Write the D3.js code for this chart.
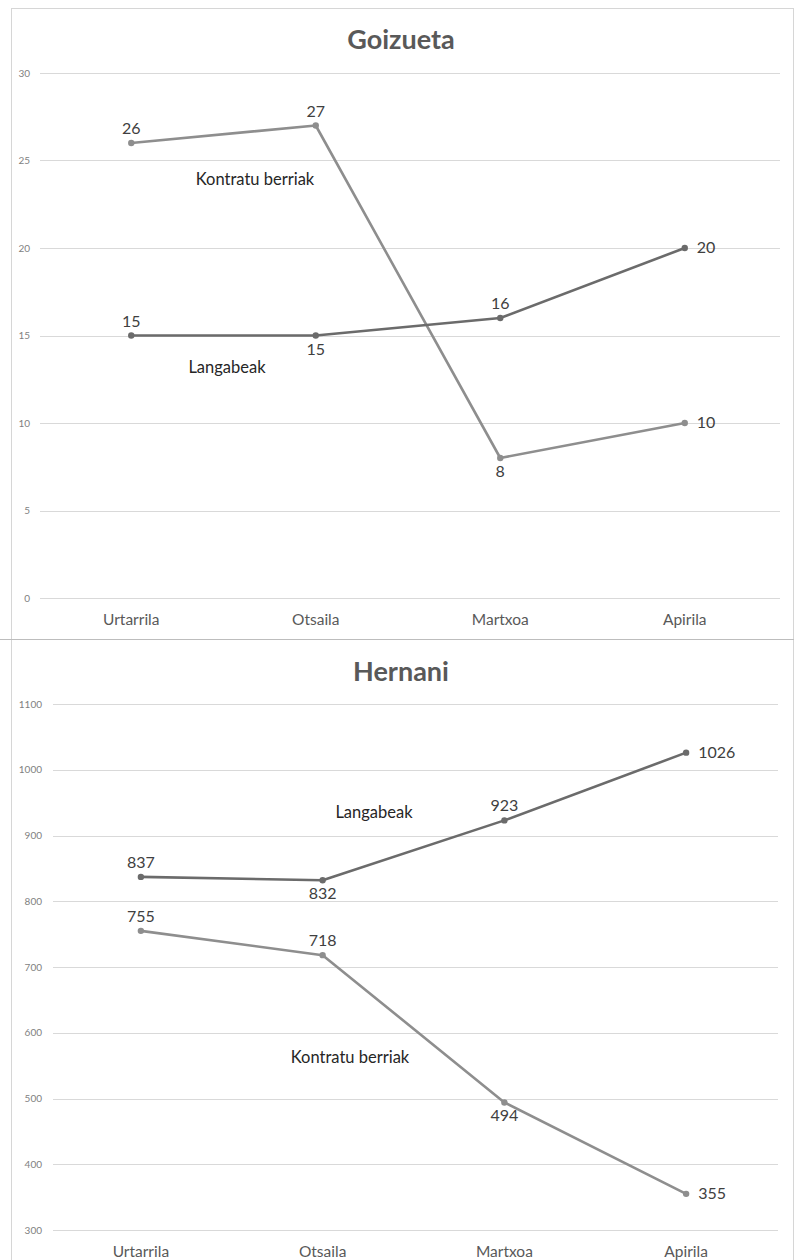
<!DOCTYPE html>
<html>
<head>
<meta charset="utf-8">
<script src="https://cdn.jsdelivr.net/npm/d3@7"></script>
<style>
  body { margin: 0; background: #fff; }
  svg { display: block; font-family: Lato, "Open Sans", sans-serif; }
</style>
</head>
<body>
<div id="chart"></div>
<script>
const months = ["Urtarrila", "Otsaila", "Martxoa", "Apirila"];

const goizuetaKontratu = [26, 27, 8, 10];
const goizuetaLangabeak = [15, 15, 16, 20];
const goizuetaTicks = [0, 5, 10, 15, 20, 25, 30];

const hernaniLangabeak = [837, 832, 923, 1026];
const hernaniKontratu = [755, 718, 494, 355];
const hernaniTicks = [300, 400, 500, 600, 700, 800, 900, 1000, 1100];

const width = 802;
const height = 1260;
const darkLine = "#6b6b6b";
const lightLine = "#8e8e8e";
const textColor = "#404040";

const svg = d3.select("#chart")
  .append("svg")
  .attr("width", width)
  .attr("height", height);

// panel frames
svg.append("rect")
  .attr("x", 11.5).attr("y", 8.5)
  .attr("width", 782).attr("height", 1260)
  .attr("fill", "none")
  .attr("stroke", "#d6d6d6");
svg.append("line")
  .attr("x1", 0).attr("x2", 794)
  .attr("y1", 639.5).attr("y2", 639.5)
  .attr("stroke", "#bdbdbd");

const panels = [
  {
    title: "Goizueta",
    titleY: 49,
    xRange: [39, 777],
    gridX: [40, 780],
    yDomain: [0, 30],
    yRange: [598, 73],
    ticks: goizuetaTicks,
    tickX: 30,
    catY: 625,
    series: [
      { values: goizuetaKontratu, color: lightLine, pos: ["above", "above", "below", "right"] },
      { values: goizuetaLangabeak, color: darkLine, pos: ["above", "below", "above", "right"] }
    ],
    names: [
      { text: "Kontratu berriak", x: 255, y: 185 },
      { text: "Langabeak", x: 227, y: 373 }
    ]
  },
  {
    title: "Hernani",
    titleY: 681,
    xRange: [50, 777],
    gridX: [53, 778],
    yDomain: [300, 1100],
    yRange: [1230, 704],
    ticks: hernaniTicks,
    tickX: 42,
    catY: 1257,
    series: [
      { values: hernaniLangabeak, color: darkLine, pos: ["above", "below", "above", "right"] },
      { values: hernaniKontratu, color: lightLine, pos: ["above", "above", "below", "right"] }
    ],
    names: [
      { text: "Langabeak", x: 374, y: 818 },
      { text: "Kontratu berriak", x: 350, y: 1063 }
    ]
  }
];

panels.forEach(p => {
  const g = svg.append("g");

  const x = d3.scalePoint()
    .domain(months)
    .range(p.xRange)
    .padding(0.5);
  const y = d3.scaleLinear()
    .domain(p.yDomain)
    .range(p.yRange);

  // title
  g.append("text")
    .attr("x", 401)
    .attr("y", p.titleY)
    .attr("text-anchor", "middle")
    .attr("font-size", 27)
    .attr("font-weight", "bold")
    .attr("fill", "#595959")
    .text(p.title);

  // gridlines + y ticks
  g.selectAll(".grid")
    .data(p.ticks)
    .enter()
    .append("line")
    .attr("x1", p.gridX[0])
    .attr("x2", p.gridX[1])
    .attr("y1", d => Math.round(y(d)) + 0.5)
    .attr("y2", d => Math.round(y(d)) + 0.5)
    .attr("stroke", "#d9d9d9")
    .attr("stroke-width", 1.2);

  g.selectAll(".ytick")
    .data(p.ticks)
    .enter()
    .append("text")
    .attr("x", p.tickX)
    .attr("y", d => y(d) + 3.5)
    .attr("text-anchor", "end")
    .attr("font-size", 10)
    .attr("fill", "#7f7f7f")
    .text(d => d);

  // category labels
  g.selectAll(".xtick")
    .data(months)
    .enter()
    .append("text")
    .attr("x", d => x(d))
    .attr("y", p.catY)
    .attr("text-anchor", "middle")
    .attr("font-size", 15.5)
    .attr("fill", "#595959")
    .text(d => d);

  const lineGen = d3.line()
    .x((d, i) => x(months[i]))
    .y(d => y(d));

  p.series.forEach(s => {
    g.append("path")
      .datum(s.values)
      .attr("d", lineGen)
      .attr("fill", "none")
      .attr("stroke", s.color)
      .attr("stroke-width", 2.6)
      .attr("stroke-linejoin", "round");

    g.selectAll(null)
      .data(s.values)
      .enter()
      .append("circle")
      .attr("cx", (d, i) => x(months[i]))
      .attr("cy", d => y(d))
      .attr("r", 3.2)
      .attr("fill", s.color);

    g.selectAll(null)
      .data(s.values)
      .enter()
      .append("text")
      .attr("x", (d, i) => s.pos[i] === "right" ? x(months[i]) + 12 : x(months[i]))
      .attr("y", (d, i) => {
        if (s.pos[i] === "above") return y(d) - 9;
        if (s.pos[i] === "below") return y(d) + 19;
        return y(d) + 5;
      })
      .attr("text-anchor", (d, i) => s.pos[i] === "right" ? "start" : "middle")
      .attr("font-size", 16)
      .attr("fill", textColor)
      .text(d => d);
  });

  // series names
  g.selectAll(".name")
    .data(p.names)
    .enter()
    .append("text")
    .attr("x", d => d.x)
    .attr("y", d => d.y)
    .attr("text-anchor", "middle")
    .attr("font-size", 16.5)
    .attr("fill", "#262626")
    .text(d => d.text);
});
</script>
</body>
</html>
